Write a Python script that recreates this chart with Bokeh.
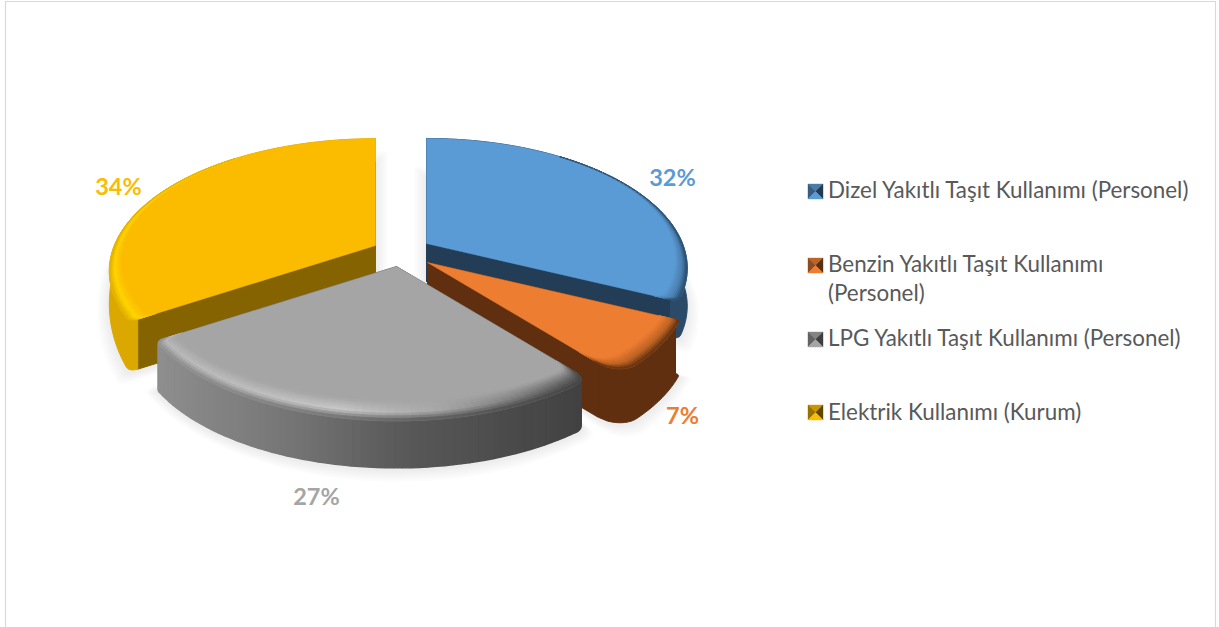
import numpy as np
from bokeh.plotting import figure
from bokeh.models import Range1d, ColumnDataSource
from bokeh.core.properties import value
from bokeh.embed import file_html
from bokeh.resources import INLINE

categories = ["Dizel Yakıtlı Taşıt Kullanımı (Personel)",
              "Benzin Yakıtlı Taşıt Kullanımı (Personel)",
              "LPG Yakıtlı Taşıt Kullanımı (Personel)",
              "Elektrik Kullanımı (Kurum)"]
legend_lines = [["Dizel Yakıtlı Taşıt Kullanımı (Personel)"],
                ["Benzin Yakıtlı Taşıt Kullanımı", "(Personel)"],
                ["LPG Yakıtlı Taşıt Kullanımı (Personel)"],
                ["Elektrik Kullanımı (Kurum)"]]
values = [32, 7, 27, 34]
labels = ["32%", "7%", "27%", "34%"]
colors = ["#5b9bd5", "#ed7d31", "#a5a5a5", "#fbbc00"]

# projection of the tilted pie
R, RY, K = 256.0, 125.0, 0.19
apexes = [(426, 243), (427, 262), (396, 266), (375, 245)]
depths = [38, 54, 47, 50]
scales = [1, 1, 1, 1.02]
round_ends = [(0, 0.03), (0.015, 0.095), (0.055, 0.03), (0.03, 0)]
side_cols = ["#2a4a68", "#5f2f10", None, "#dba800"]
wall_cols = ["#223d55", "#5f2f10", "#5f5f5f", "#856400"]
label_pos = [(672, 176), (682, 414), (316, 495), (118, 185)]
legend_ys = [191, 265, 339, 412]
line_ys = [[190], [264, 293], [338], [412]]


def rgb(h):
    return np.array([int(h[i:i + 2], 16) for i in (1, 3, 5)], float)


def mix(a, b, t):
    c = rgb(a) * (1 - t) + rgb(b) * t
    return "#%02x%02x%02x" % tuple(int(round(x)) for x in c)


def grey(xp, fp, x):
    g = int(round(np.interp(x, xp, fp)))
    return "#%02x%02x%02x" % (g, g, g)


def project(apex, th, r):
    u, v = np.sin(th), np.cos(th)
    s = 1 / (1 + K * r * v)
    return apex[0] + R * r * u * s, apex[1] - RY * r * v * s


def rim(th, a, b, rs, re):
    r = np.ones_like(th)
    for rho, d in ((rs, th - a), (re, b - th)):
        if rho > 0:
            m = d < rho
            dd = np.clip(d[m], 0, rho)
            r[m] = np.minimum(r[m], 1 - rho + np.sqrt(np.maximum(rho ** 2 - (rho - dd) ** 2, 0)))
    return r


fracs = np.array(values, float) / sum(values)
edges = np.concatenate([[0], np.cumsum(fracs)]) * 2 * np.pi

p = figure(width=1219, height=627, x_range=Range1d(0, 1219), y_range=Range1d(627, 0),
           x_axis_type=None, y_axis_type=None, toolbar_location=None, output_backend="svg",
           min_border=0, outline_line_color=None)
p.grid.visible = False
p.background_fill_color = "white"
p.border_fill_color = "white"

# chart frame
p.line([5, 5, 1215, 1215], [627, 1, 1, 627], line_color="#d9d9d9", line_width=1.2)

# soft shadows
shx, shy = [], []
geo = []
for i in range(4):
    a, b = edges[i], edges[i + 1]
    n = max(int((b - a) / np.radians(1.5)), 4)
    ths = [np.linspace(a, b, n)]
    rs, re = round_ends[i]
    if rs:
        ths.append(a + np.linspace(0, rs * 1.2, 16))
    if re:
        ths.append(b - np.linspace(0, re * 1.2, 16))
    th = np.unique(np.concatenate(ths))
    r = rim(th, a, b, rs, re) * scales[i]
    x, y = project(apexes[i], th, r)
    dv = depths[i] * np.ones_like(th)
    if i == 3:  # the wall narrows towards the far left of this slice
        dv = depths[i] * np.clip(0.45 - 1.05 * np.cos(th), 0.45, 1)
    geo.append((th, r, x, y, dv))
    bx = np.concatenate([[apexes[i][0]], x])
    by = np.concatenate([[apexes[i][1] + depths[i]], y + dv])
    cx, cy = (bx.min() + bx.max()) / 2, (by.min() + by.max()) / 2
    hw, hh = (bx.max() - bx.min()) / 2, (by.max() - by.min()) / 2
    for e in (2, 4, 6, 8, 10, 12):
        shx.append(list(cx + (bx - cx) * (hw + e) / hw))
        shy.append(list(cy + 2 + (by - cy) * (hh + e) / hh))
p.patches(shx, shy, fill_color="black", fill_alpha=0.013, line_color=None)

# slices, far ones first
xs, ys, cs, lw = [], [], [], []


def add(px, py, c, w=0.7):
    xs.append(list(px))
    ys.append(list(py))
    cs.append(c)
    lw.append(w)


for i in (0, 3, 1, 2):
    th, r, x, y, dv = geo[i]
    ax, ay = apexes[i]
    d = depths[i]
    base = colors[i]
    # cut faces
    for k in (0, -1):
        add([ax, x[k], x[k], ax], [ay, y[k], y[k] + dv[k], ay + d], wall_cols[i], 1.0)
    # outer wall
    if i == 2:
        for j in range(len(th) - 1):
            c = grey([155, 300, 400, 578], [0x8f, 0x74, 0x5a, 0x42], x[j])
            add([x[j], x[j + 1], x[j + 1], x[j]], [y[j], y[j + 1], y[j + 1] + d, y[j] + d], c, 1.6)
    else:
        add(np.concatenate([x, x[::-1]]), np.concatenate([y, (y + dv)[::-1]]), side_cols[i], 1.0)
    # top surface
    add(np.concatenate([[ax], x]), np.concatenate([[ay], y]), base, 0.5)
    # bevel along the rim
    steps = 8
    for j in range(len(th) - 1):
        w0 = 0.035 * (1 - np.cos(th[j])) ** 1.6
        w1 = 0.035 * (1 - np.cos(th[j + 1])) ** 1.6
        if max(w0, w1) < 0.003:
            continue
        if i == 2:
            hl = grey([155, 340, 450, 578], [0xb8, 0xc8, 0xa5, 0x60], x[j])
            sd = grey([155, 300, 400, 578], [0x8f, 0x74, 0x5a, 0x42], x[j])
        elif i == 3:
            hl, sd = "#ffd400", "#e0ae00"
        else:
            sd = side_cols[i]
            hl = mix(base, sd, 0.35)
        for s in range(steps):
            t0, t1 = s / steps, (s + 1) / steps
            q0x, q0y = project((ax, ay), th[j], r[j] - w0 * (1 - t0))
            q1x, q1y = project((ax, ay), th[j + 1], r[j + 1] - w1 * (1 - t0))
            q2x, q2y = project((ax, ay), th[j + 1], r[j + 1] - w1 * (1 - t1))
            q3x, q3y = project((ax, ay), th[j], r[j] - w0 * (1 - t1))
            tm2 = (t0 + t1) / 2
            c = mix(base, hl, tm2 / 0.6) if tm2 < 0.6 else mix(hl, sd, (tm2 - 0.6) / 0.4)
            add([q0x, q1x, q2x, q3x], [q0y, q1y, q2y, q3y], c, 0.8)

src = ColumnDataSource(dict(xs=xs, ys=ys, c=cs, w=lw))
p.patches("xs", "ys", source=src, fill_color="c", line_color="c", line_width="w")

# percentage labels
for i in range(4):
    p.text([label_pos[i][0]], [label_pos[i][1]], text=[labels[i]], text_color=colors[i],
           text_font=value("Lato"), text_font_style="bold", text_font_size="23.5px",
           text_align="center", text_baseline="middle")

# legend
hs = 7.5
mx = 815
for i in range(4):
    my = legend_ys[i]
    base = colors[i]
    tris = [([mx - hs, mx + hs, mx], [my - hs, my - hs, my], mix(base, "#000000", 0.2)),
            ([mx - hs, mx, mx - hs], [my - hs, my, my + hs], mix(base, "#000000", 0.4)),
            ([mx + hs, mx, mx + hs], [my - hs, my, my + hs], mix(base, "#000000", 0.62)),
            ([mx - hs, mx + hs, mx], [my + hs, my + hs, my], base)]
    for tx, ty, c in tris:
        p.patch(tx, ty, fill_color=c, line_color=c, line_width=0.4)
    for line, ly in zip(legend_lines[i], line_ys[i]):
        p.text([827.5], [ly - 1], text=[line], text_color="#595959", text_font=value("Lato"),
               text_font_size="22.4px", text_align="left", text_baseline="middle")

open("out.html", "w").write(file_html(p, INLINE))
